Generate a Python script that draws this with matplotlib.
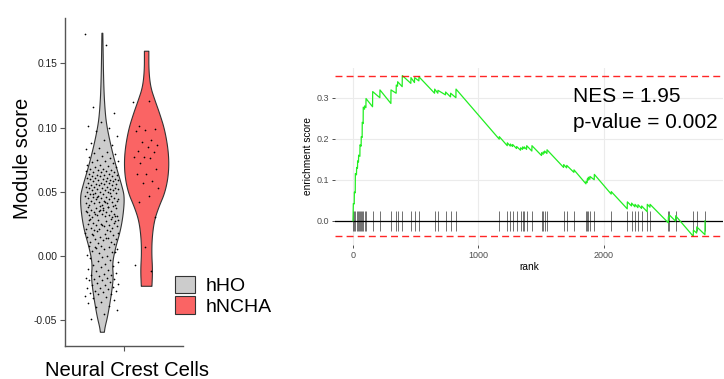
import numpy as np
import matplotlib
matplotlib.use("Agg")
import matplotlib.pyplot as plt
from matplotlib.patches import Patch
from matplotlib.ticker import FormatStrFormatter

plt.rcParams['font.family'] = ['Liberation Sans', 'DejaVu Sans']

# ---------------- violin panel data ----------------
groups = ["hHO", "hNCHA"]
colors = ["#CCCCCC", "#FA6464"]

# violin outline: score level and relative half width
gray_prof_y = [0.1738, 0.1318, 0.1113, 0.1006, 0.0850, 0.0695, 0.0539, 0.0461, 0.0334,
               0.0201, 0.0071, -0.0056, -0.0162, -0.0266, -0.0367, -0.0474, -0.0552, -0.0591]
gray_prof_w = [0.02, 0.06, 0.13, 0.21, 0.40, 0.63, 0.90, 1.0, 0.95,
               0.82, 0.60, 0.45, 0.50, 0.43, 0.34, 0.23, 0.12, 0.09]
red_prof_y = [0.1598, 0.1448, 0.1318, 0.1214, 0.1113, 0.0980, 0.0801, 0.0645, 0.0500,
              0.0383, 0.0279, 0.0149, 0.0022, -0.0110, -0.0233]
red_prof_w = [0.10, 0.10, 0.18, 0.38, 0.59, 0.83, 1.0, 1.0, 0.84,
              0.55, 0.35, 0.25, 0.23, 0.27, 0.24]

# individual cell scores (estimated)
gray_cells = [
    0.173, 0.164, 0.116, 0.111, 0.104, 0.101, 0.100, 0.097, 0.093, 0.090,
    0.088, 0.086, 0.084, 0.083, 0.081, 0.080,
    0.079, 0.078, 0.077, 0.076, 0.075, 0.074, 0.074, 0.073, 0.072, 0.071, 0.071, 0.070,
    0.069, 0.069, 0.068, 0.068, 0.067, 0.067, 0.066, 0.066, 0.065, 0.065, 0.065, 0.064,
    0.064, 0.063, 0.063, 0.063, 0.062, 0.062, 0.062, 0.061, 0.061, 0.061, 0.060, 0.060, 0.060,
    0.059, 0.059, 0.059, 0.058, 0.058, 0.058, 0.057, 0.057, 0.057, 0.056, 0.056, 0.056,
    0.055, 0.055, 0.055, 0.054, 0.054, 0.054, 0.053, 0.053, 0.053, 0.052, 0.052, 0.052,
    0.051, 0.051, 0.051, 0.050, 0.050, 0.050,
    0.049, 0.049, 0.048, 0.048, 0.047, 0.047, 0.047, 0.046, 0.046, 0.045, 0.045, 0.045,
    0.044, 0.044, 0.043, 0.043, 0.043, 0.042, 0.042, 0.041, 0.041, 0.041, 0.040, 0.040,
    0.040, 0.049, 0.046, 0.044, 0.042, 0.048,
    0.039, 0.039, 0.038, 0.038, 0.037, 0.037, 0.036, 0.036, 0.035, 0.035, 0.035, 0.034,
    0.034, 0.033, 0.033, 0.032, 0.032, 0.032, 0.031, 0.031, 0.030, 0.030, 0.036, 0.034,
    0.038, 0.033, 0.031, 0.037,
    0.029, 0.029, 0.028, 0.028, 0.027, 0.026, 0.026, 0.025, 0.025, 0.024, 0.024, 0.023,
    0.023, 0.022, 0.022, 0.021, 0.021, 0.020, 0.020, 0.027, 0.024, 0.028,
    0.019, 0.019, 0.018, 0.017, 0.017, 0.016, 0.015, 0.015, 0.014, 0.013, 0.013, 0.012,
    0.011, 0.011, 0.010, 0.018, 0.014, 0.016,
    0.009, 0.008, 0.008, 0.007, 0.006, 0.005, 0.005, 0.004, 0.003, 0.002, 0.001, 0.000,
    0.007, 0.003,
    -0.001, -0.002, -0.003, -0.004, -0.005, -0.006, -0.007, -0.008, -0.009, -0.010,
    -0.011, -0.012, -0.013, -0.014, -0.015, -0.015, -0.016, -0.017, -0.017, -0.018,
    -0.018, -0.019, -0.019, -0.020,
    -0.021, -0.022, -0.023, -0.023, -0.024, -0.025, -0.025, -0.026, -0.027, -0.027,
    -0.028, -0.029, -0.030, -0.030,
    -0.031, -0.032, -0.033, -0.034, -0.036, -0.037, -0.039, -0.040,
    -0.042, -0.045, -0.049,
]
red_cells = [0.120, 0.121, 0.101, 0.099, 0.098, 0.097, 0.090, 0.089, 0.086, 0.085,
             0.082, 0.081, 0.077, 0.077, 0.076, 0.072, 0.068, 0.064, 0.064, 0.058,
             0.057, 0.053, 0.047, 0.042, 0.030, 0.007, -0.007, -0.012]

# ---------------- GSEA panel data ----------------
curve_rank = [0, 3, 10, 11, 18, 19, 28, 29, 36, 37, 44, 45, 55, 56, 65, 66, 73, 74, 81, 82,
              92, 93, 103, 104, 156, 157, 214, 215, 302, 303, 344, 345, 355, 356, 392, 393,
              461, 462, 490, 491, 525, 526, 650, 651, 676, 677, 737, 738, 777, 778, 820, 821,
              1165, 1166, 1229, 1230, 1253, 1254, 1271, 1272, 1303, 1304, 1335, 1336,
              1351, 1352, 1364, 1365, 1383, 1384, 1425, 1426, 1502, 1503, 1515, 1516,
              1526, 1527, 1545, 1546, 1678, 1679, 1702, 1703, 1760, 1761, 1856, 1857,
              1866, 1867, 1874, 1875, 1887, 1888, 1922, 1923, 2057, 2058, 2185, 2186,
              2219, 2220, 2246, 2247, 2270, 2271, 2299, 2300, 2344, 2345, 2366, 2367,
              2512, 2513, 2520, 2521, 2570, 2571, 2711, 2712, 2738, 2739, 2804, 2805]
curve_es = [0.000, 0.042, 0.041, 0.070, 0.068, 0.115, 0.112, 0.130, 0.128, 0.146, 0.143, 0.160,
            0.157, 0.185, 0.182, 0.205, 0.203, 0.240, 0.237, 0.277, 0.272, 0.280, 0.276, 0.298,
            0.278, 0.315, 0.300, 0.319, 0.286, 0.319, 0.311, 0.331, 0.328, 0.339, 0.327, 0.354,
            0.335, 0.349, 0.337, 0.349, 0.341, 0.351, 0.311, 0.321, 0.311, 0.318, 0.307, 0.314,
            0.302, 0.311, 0.300, 0.321,
            0.199, 0.205, 0.183, 0.190, 0.182, 0.187, 0.181, 0.186, 0.176, 0.181, 0.172, 0.178,
            0.174, 0.180, 0.176, 0.180, 0.174, 0.183, 0.170, 0.183, 0.159, 0.166, 0.162, 0.168,
            0.165, 0.170, 0.164, 0.173, 0.130, 0.137, 0.129, 0.135, 0.118, 0.124, 0.090, 0.096,
            0.093, 0.102, 0.099, 0.106, 0.101, 0.108, 0.100, 0.113, 0.065, 0.071, 0.029, 0.046,
            0.036, 0.043, 0.034, 0.040, 0.032, 0.039, 0.030, 0.036, 0.022, 0.040, 0.033, 0.040,
            -0.005, 0.010, 0.008, 0.014, -0.001, 0.012, -0.038, -0.023, -0.030, -0.015,
            -0.034, 0.000]
hit_ranks = [3, 11, 19, 29, 37, 45, 56, 66, 74, 82, 93, 104, 157, 215, 303, 345, 356, 393,
             462, 491, 526, 651, 677, 738, 778, 821, 1166, 1230, 1254, 1272, 1304, 1336,
             1352, 1365, 1384, 1426, 1503, 1516, 1527, 1546, 1679, 1703, 1761, 1857, 1867,
             1875, 1888, 1923, 2058, 2186, 2220, 2247, 2271, 2300, 2345, 2367, 2513, 2521,
             2571, 2712, 2739, 2805]
nes_text = "NES = 1.95"
pval_text = "p-value = 0.002"


def chaikin(y, w, rounds=3):
    # corner cutting so the outline is drawn rounded, ends kept in place
    pts = np.column_stack([y, w])
    for _ in range(rounds):
        q = 0.75 * pts[:-1] + 0.25 * pts[1:]
        r = 0.25 * pts[:-1] + 0.75 * pts[1:]
        mid = np.empty((2 * len(q), 2))
        mid[0::2] = q
        mid[1::2] = r
        pts = np.vstack([pts[:1], mid, pts[-1:]])
    return pts[:, 0], pts[:, 1]


W, H = 724, 379
fig = plt.figure(figsize=(W / 100, H / 100), dpi=100)

# ---------------- left: violins ----------------
ax1 = fig.add_axes([65 / W, 1 - 346 / H, 118 / W, 328 / H])
half = 0.225
centers = [1 - half, 1 + half]
profiles = [(gray_prof_y, gray_prof_w), (red_prof_y, red_prof_w)]
for c, col, (py, pw) in zip(centers, colors, profiles):
    sy, sw = chaikin(np.array(py), np.array(pw) * half)
    ax1.fill_betweenx(sy, c - sw, c + sw, facecolor=col, edgecolor="#333333", lw=0.8, zorder=2)

for c, cells, spread in zip(centers, [gray_cells, red_cells], [0.17, 0.13]):
    n = len(cells)
    jit = ((np.arange(n) * 0.6180339887) % 1 - 0.5) * 2 * spread
    ax1.scatter(c + jit, cells, s=1.5, color="black", lw=0, zorder=3)

ax1.set_xlim(0.4, 1.6)
ax1.set_ylim(-0.0702, 0.1853)
ax1.set_xticks([1])
ax1.set_xticklabels([""])
ax1.set_yticks([-0.05, 0.0, 0.05, 0.10, 0.15])
ax1.set_yticklabels(["-0.05", "0.00", "0.05", "0.10", "0.15"])
for s in ["top", "right"]:
    ax1.spines[s].set_visible(False)
for s in ["left", "bottom"]:
    ax1.spines[s].set_color("#555555")
    ax1.spines[s].set_linewidth(1)
ax1.tick_params(axis="both", length=3.5, width=0.8, color="#555555", labelsize=7.4,
                labelcolor="#222222", pad=2)

fig.text(22.5 / W, 1 - 158 / H, "Module score", rotation=90, ha="center", va="center",
         fontsize=14.5)
fig.text(126.7 / W, 1 - 376 / H, "Neural Crest Cells", ha="center", va="baseline",
         fontsize=14.6)

handles = [Patch(facecolor=col, edgecolor="#333333", lw=0.8) for col in colors]
fig.legend(handles, groups, loc="upper left", bbox_to_anchor=(175 / W, 1 - 276 / H),
           frameon=False, fontsize=14, handlelength=1.05, handleheight=1.0,
           handletextpad=0.5, labelspacing=0.05, borderpad=0, borderaxespad=0)

# ---------------- right: enrichment plot ----------------
ax2 = fig.add_axes([335.4 / W, 1 - 244.8 / H, 387.6 / W, 177.3 / H])
ax2.set_xlim(-140, 2948)
ax2.set_ylim(-0.0587, 0.3737)
ax2.grid(True, color="#EBEBEB", lw=0.8)
ax2.set_axisbelow(True)
for s in ax2.spines.values():
    s.set_visible(False)

ax2.axhline(0, color="black", lw=0.9, zorder=2)
ax2.vlines(hit_ranks, -0.024, 0.024, color="black", lw=0.6, alpha=0.65, zorder=3)
ax2.plot(curve_rank, curve_es, color="#22EE22", lw=0.9, zorder=4)
ax2.axhline(max(curve_es), color="red", ls=(0, (5, 3)), lw=1.0, alpha=0.85, zorder=5)
ax2.axhline(min(curve_es), color="red", ls=(0, (5, 3)), lw=1.0, alpha=0.85, zorder=5)

ax2.set_xticks([0, 1000, 2000])
ax2.set_yticks([0.0, 0.1, 0.2, 0.3])
ax2.yaxis.set_major_formatter(FormatStrFormatter("%.1f"))
ax2.tick_params(axis="both", length=2.2, width=0.6, color="#333333", labelsize=6.5,
                labelcolor="#4D4D4D", pad=2)
ax2.set_xlabel("rank", fontsize=7.3, labelpad=2)
ax2.set_ylabel("enrichment score", fontsize=7.3, labelpad=3)

fig.text(573 / W, 1 - 102.3 / H, nes_text, fontsize=15, va="baseline", ha="left")
fig.text(573 / W, 1 - 128.3 / H, pval_text, fontsize=15, va="baseline", ha="left")

fig.savefig("out.png", dpi=100)
